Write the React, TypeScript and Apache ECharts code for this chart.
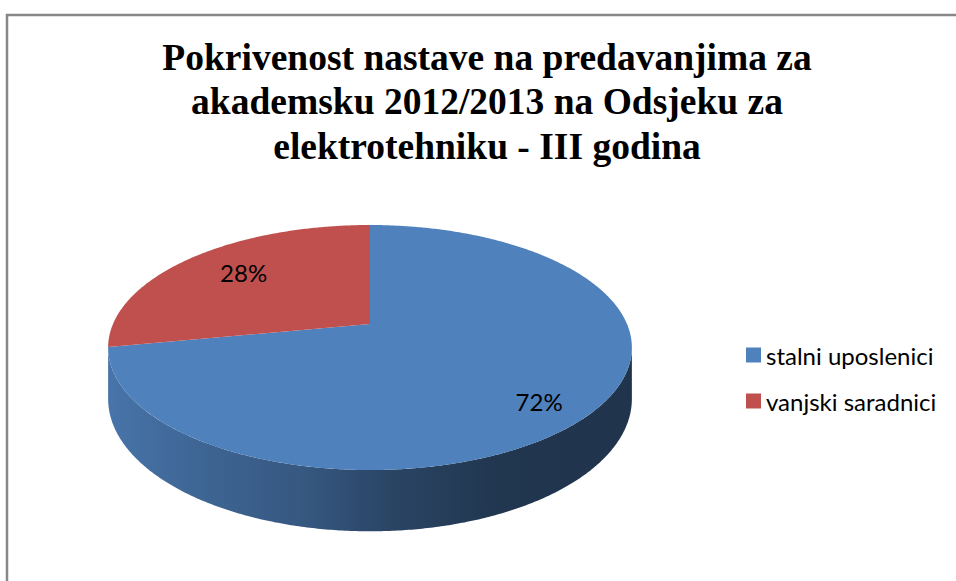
import React, { useEffect, useRef } from "react";
import * as echarts from "echarts";

// ---- data ----
const titleLines = [
  "Pokrivenost nastave na predavanjima za",
  "akademsku 2012/2013 na Odsjeku za",
  "elektrotehniku - III godina",
];
const categories = ["stalni uposlenici", "vanjski saradnici"];
const values = [72, 28];
const sliceColors = ["#4F81BD", "#C0504D"];

// ---- geometry / style constants (positions only) ----
const CX = 370;
const CY = 324;
const RX = 257;
const KY = 118;
const P = 0.192;
const DEPTH = 49.5;
const LABEL_F = 0.74;
const LABEL_DX = 8;
const LABEL_FRONT_DY = 25;
const TH_R = Math.acos(-P);
const TH_L = 2 * Math.PI - Math.acos(-P);
const SANS = "Lato, 'Open Sans', sans-serif";

function proj(theta: number, f: number, down: number): number[] {
  const u = f * Math.sin(theta);
  const v = f * Math.cos(theta);
  const w = 1 + P * v;
  return [CX + (RX * u) / w, CY - (KY * v) / w + (down * DEPTH) / w];
}

function shade(hex: string, k: number): string {
  const n = parseInt(hex.slice(1), 16);
  const r = Math.round(((n >> 16) & 255) * k);
  const g = Math.round(((n >> 8) & 255) * k);
  const b = Math.round((n & 255) * k);
  return `rgb(${r},${g},${b})`;
}

function arc(a: number, b: number, down: number): number[][] {
  const pts: number[][] = [];
  const steps = Math.max(2, Math.ceil(((b - a) * 180) / Math.PI * 2));
  for (let s = 0; s <= steps; s++) {
    pts.push(proj(a + ((b - a) * s) / steps, 1, down));
  }
  return pts;
}

const total = values.reduce((s, v) => s + v, 0);

function makeRender(index: number) {
  return (params: any, api: any) => {
    const val = api.value(0) as number;
    const before = values.slice(0, index).reduce((s, v) => s + v, 0);
    const start = (before / total) * 2 * Math.PI;
    const end = start + (val / total) * 2 * Math.PI;
    const color = api.visual("color") as string;
    const children: any[] = [];
    const a = Math.max(start, TH_R);
    const b = Math.min(end, TH_L);
    if (b > a) {
      const top = arc(a, b, 0);
      const bottom = arc(a, b, 1).reverse();
      children.push({
        type: "polygon",
        shape: { points: top.concat(bottom) },
        style: {
          fill: new echarts.graphic.LinearGradient(0, 0, 1, 0, [
            { offset: 0, color: shade(color, 0.9) },
            { offset: 0.18, color: shade(color, 0.78) },
            { offset: 0.37, color: shade(color, 0.68) },
            { offset: 0.54, color: shade(color, 0.53) },
            { offset: 0.65, color: shade(color, 0.47) },
            { offset: 0.75, color: shade(color, 0.42) },
            { offset: 1, color: shade(color, 0.4) },
          ]),
        },
      });
    }
    children.push({
      type: "polygon",
      shape: { points: [[CX, CY]].concat(arc(start, end, 0)) },
      style: { fill: color },
    });
    const mid = (start + end) / 2;
    const lp = proj(mid, LABEL_F, 0);
    const front = Math.max(0, -Math.cos(mid));
    children.push({
      type: "text",
      x: lp[0] + LABEL_DX,
      y: lp[1] + front * LABEL_FRONT_DY,
      style: {
        text: `${Math.round((val / total) * 100)}%`,
        fontFamily: SANS,
        fontSize: 24,
        fill: "#000",
        align: "center",
        verticalAlign: "middle",
      },
    });
    return { type: "group", children };
  };
}

export default function App() {
  const ref = useRef<HTMLDivElement>(null);
  useEffect(() => {
    if (!ref.current) return;
    const chart = echarts.init(ref.current, null, { renderer: "svg" });
    chart.setOption({
      animation: false,
      backgroundColor: "#fff",
      title: {
        text: titleLines.join("\n"),
        left: 487,
        top: 35,
        padding: 0,
        textAlign: "center",
        textStyle: {
          fontFamily: "'Liberation Serif', 'Times New Roman', serif",
          fontWeight: "bold",
          fontSize: 37.5,
          lineHeight: 44.5,
          color: "#000",
        },
      },
      legend: {
        orient: "vertical",
        left: 741,
        top: 338,
        itemWidth: 15,
        itemHeight: 15,
        itemGap: 22,
        icon: "rect",
        selectedMode: false,
        data: categories,
        textStyle: { fontFamily: SANS, fontSize: 24, color: "#000" },
      },
      graphic: [
        {
          type: "rect",
          shape: { x: 7, y: 15, width: 1200, height: 1000 },
          style: { fill: "none", stroke: "#878787", lineWidth: 2.5 },
          silent: true,
        },
      ],
      series: categories.map((name, i) => ({
        type: "custom",
        name,
        coordinateSystem: "none",
        itemStyle: { color: sliceColors[i] },
        data: [values[i]],
        renderItem: makeRender(i),
      })),
    });
    return () => chart.dispose();
  }, []);
  return (
    <div
      ref={ref}
      style={{ position: "absolute", left: 0, top: 0, width: 956, height: 581 }}
    />
  );
}
